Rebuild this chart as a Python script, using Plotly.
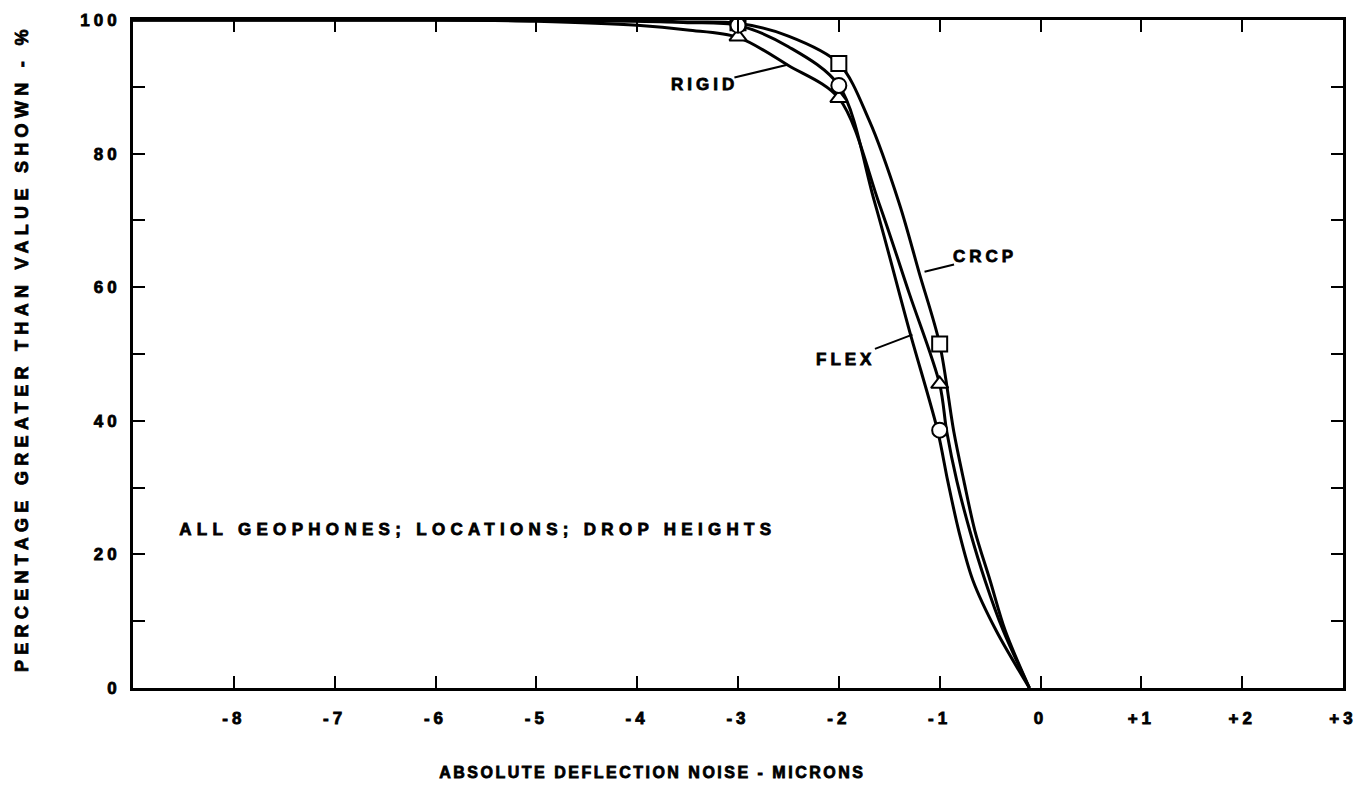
import plotly.graph_objects as go

# ---- data ----
x_tick_vals = [-8, -7, -6, -5, -4, -3, -2, -1, 0, 1, 2, 3]
x_tick_text = ["-8", "-7", "-6", "-5", "-4", "-3", "-2", "-1", "0", "+1", "+2", "+3"]
y_tick_vals = [0, 20, 40, 60, 80, 100]

marker_x = [-3, -2, -1]
crcp_markers = [99.6, 93.5, 51.5]
flex_markers = [99.2, 90.2, 38.6]
rigid_markers = [97.5, 88.3, 45.5]

crcp_curve_x = [-9, -5, -4, -3.5, -3, -2.5, -2, -1.7, -1.4, -1.2, -1, -0.86, -0.76, -0.65, -0.5, -0.35, -0.11]
crcp_curve_y = [100, 100, 99.9, 99.7, 99.5, 97.6, 93.5, 85, 72.5, 62, 51.5, 38.4, 31, 23.5, 16.1, 8.6, 0]

flex_curve_x = [-9, -5, -4, -3.5, -3, -2.5, -2, -1.65, -1.3, -1.02, -0.92, -0.81, -0.67, -0.44, -0.11]
flex_curve_y = [100, 100, 99.8, 99.6, 99.2, 96, 90.2, 73, 53.5, 38.5, 31, 23.5, 16.1, 8.6, 0]

rigid_curve_x = [-9, -6, -5, -4, -3.5, -3, -2.5, -2, -1.6, -1.3, -1, -0.93, -0.83, -0.7, -0.55, -0.37, -0.11]
rigid_curve_y = [100, 100, 99.8, 99.2, 98.5, 97.4, 93.2, 88.3, 72.5, 59, 45.5, 38.4, 31, 23.5, 16.1, 8.6, 0]

FONT = "Liberation Sans"

fig = go.Figure()

for cx, cy, name in [(crcp_curve_x, crcp_curve_y, "CRCP"),
                     (flex_curve_x, flex_curve_y, "FLEX"),
                     (rigid_curve_x, rigid_curve_y, "RIGID")]:
    fig.add_trace(go.Scatter(x=cx, y=cy, mode="lines", name=name,
                             line=dict(color="black", width=3, shape="spline", smoothing=0.9),
                             showlegend=False, hoverinfo="skip"))

for my, sym, name in [(crcp_markers, "square", "CRCP"),
                      (rigid_markers, "triangle-up", "RIGID"),
                      (flex_markers, "circle", "FLEX")]:
    fig.add_trace(go.Scatter(x=marker_x, y=my, mode="markers", name=name,
                             marker=dict(symbol=sym, size=15, color="white",
                                         line=dict(color="black", width=2)),
                             showlegend=False))

label_font = dict(family=FONT, size=17, color="black", weight="bold")
fig.add_annotation(x=-2.51, y=93.3, text="RIGID", showarrow=True, arrowhead=0,
                   arrowwidth=2, arrowcolor="black", ax=-83, ay=20, font=label_font, borderpad=6)
fig.add_annotation(x=-1.15, y=62.3, text="CRCP", showarrow=True, arrowhead=0,
                   arrowwidth=2, arrowcolor="black", ax=60, ay=-15, font=label_font, borderpad=6)
fig.add_annotation(x=-1.27, y=52.9, text="FLEX", showarrow=True, arrowhead=0,
                   arrowwidth=2, arrowcolor="black", ax=-66, ay=25, font=label_font, borderpad=6)
fig.add_annotation(x=-5.58, y=23.7, text="ALL GEOPHONES; LOCATIONS; DROP HEIGHTS",
                   showarrow=False, xanchor="center", font=label_font)
fig.add_annotation(xref="paper", yref="paper", x=(652 - 133) / 1210, y=(688 - 774) / 677,
                   text="ABSOLUTE DEFLECTION NOISE - MICRONS", showarrow=False,
                   xanchor="center", yanchor="middle",
                   font=dict(family=FONT, size=16, color="black", weight="bold"))
fig.add_annotation(xref="paper", yref="paper", x=(22 - 133) / 1210, y=0.508,
                   text="PERCENTAGE GREATER THAN VALUE SHOWN - %", showarrow=False,
                   textangle=-90, xanchor="center", yanchor="middle",
                   font=dict(family=FONT, size=18, color="black", weight="bold"))

tick_font = dict(family=FONT, size=17, color="black", weight="bold")
fig.update_xaxes(range=[-9, 3], tickmode="array", tickvals=x_tick_vals, ticktext=x_tick_text,
                 ticks="inside", ticklen=12, tickwidth=2, tickcolor="black",
                 showline=True, linewidth=3, linecolor="black", mirror="ticks",
                 showgrid=False, zeroline=False, tickfont=tick_font, ticklabelstandoff=13)
fig.update_yaxes(range=[0, 100], tickmode="array", tickvals=y_tick_vals,
                 ticks="inside", ticklen=12, tickwidth=2, tickcolor="black",
                 minor=dict(tickmode="linear", tick0=0, dtick=10, ticks="inside",
                            ticklen=12, tickwidth=2, tickcolor="black", showgrid=False),
                 showline=True, linewidth=3, linecolor="black", mirror="ticks",
                 showgrid=False, zeroline=False, tickfont=tick_font, ticklabelstandoff=6)

fig.update_layout(width=1369, height=787, plot_bgcolor="white", paper_bgcolor="white",
                  margin=dict(l=133, r=26, t=11, b=99), showlegend=False)

post_script = """
document.documentElement.style.margin = '0';
document.documentElement.style.padding = '0';
document.body.style.margin = '0';
document.body.style.padding = '0';
document.body.style.overflow = 'hidden';
var s = document.createElement('style');
s.textContent = `
.xtick text, .ytick text { letter-spacing: 4px; stroke: black; stroke-width: 0.8px; }
.annotation text { letter-spacing: 4px; stroke: black; stroke-width: 0.8px; }
.annotation[data-index="3"] text { letter-spacing: 5.3px; }
.annotation[data-index="4"] text { letter-spacing: 2.5px; }
.annotation[data-index="5"] text { letter-spacing: 5.3px; }
`;
document.head.appendChild(s);
"""

fig.write_html("out.html", post_script=post_script, config={"displayModeBar": False})
